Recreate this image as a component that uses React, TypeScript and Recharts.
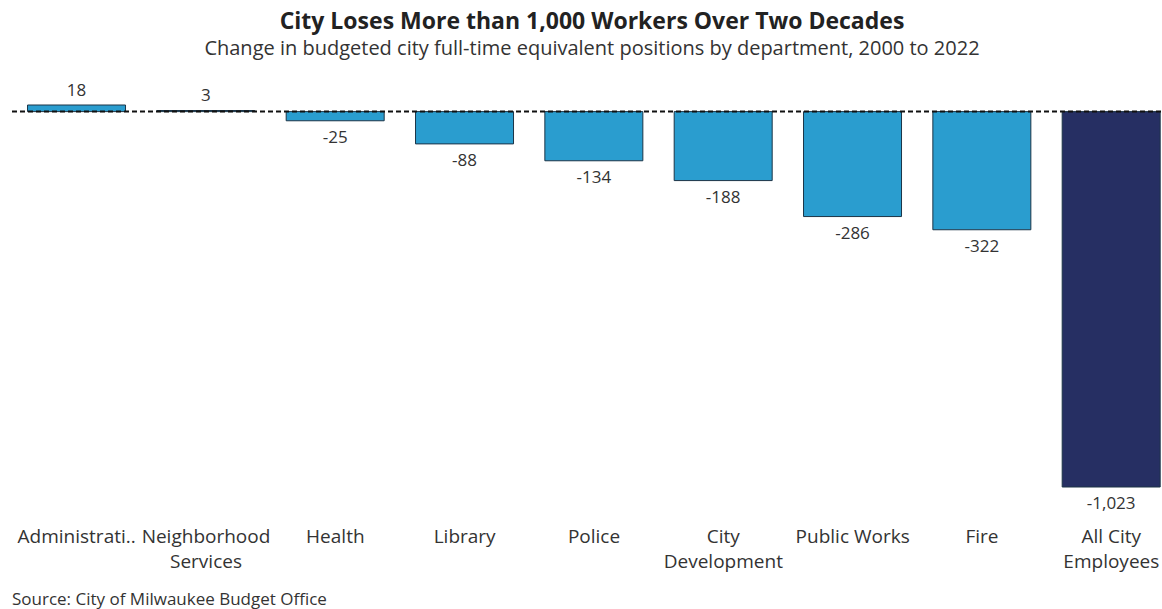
import React from "react";
import { BarChart, Bar, XAxis, YAxis, ReferenceLine, Cell, LabelList } from "recharts";

const departments = [
  "Administrati..",
  "Neighborhood\nServices",
  "Health",
  "Library",
  "Police",
  "City\nDevelopment",
  "Public Works",
  "Fire",
  "All City\nEmployees",
];
const changes = [18, 3, -25, -88, -134, -188, -286, -322, -1023];
const barColors = ["#2a9dcf", "#2a9dcf", "#2a9dcf", "#2a9dcf", "#2a9dcf", "#2a9dcf", "#2a9dcf", "#2a9dcf", "#262f63"];

const FONT = "'Open Sans', Lato, sans-serif";

const chartData = departments.map((name, i) => ({ name, value: changes[i], color: barColors[i] }));

const DeptTick = ({ x, y, payload }: any) => {
  const lines = String(payload.value).split("\n");
  return (
    <text x={x} y={y} textAnchor="middle" fill="#333" fontSize={19} fontFamily={FONT}>
      {lines.map((ln, i) => (
        <tspan key={i} x={x} dy={i === 0 ? 48 : 25}>
          {ln}
        </tspan>
      ))}
    </text>
  );
};

const ValueLabel = (props: any) => {
  const { x, y, width, height, value } = props;
  const top = Math.min(y, y + height);
  const bottom = Math.max(y, y + height);
  const ty = value >= 0 ? top - 9.5 : bottom + 22;
  return (
    <text x={x + width / 2} y={ty} textAnchor="middle" fill="#333" fontSize={17} fontFamily={FONT}>
      {Number(value).toLocaleString("en-US")}
    </text>
  );
};

export default function App() {
  return (
    <div
      style={{
        position: "absolute",
        left: 0,
        top: 0,
        width: 1162,
        height: 609,
        overflow: "hidden",
        background: "#fff",
        fontFamily: FONT,
      }}
    >
      <div style={{ position: "absolute", left: 0, top: 4, width: 1184, textAlign: "center", fontSize: 23, fontWeight: 700, color: "#222" }}>
        City Loses More than 1,000 Workers Over Two Decades
      </div>
      <div style={{ position: "absolute", left: 0, top: 34, width: 1184, textAlign: "center", fontSize: 20, color: "#333" }}>
        Change in budgeted city full-time equivalent positions by department, 2000 to 2022
      </div>
      <div style={{ position: "absolute", left: 0, top: 60 }}>
        <BarChart
          width={1180}
          height={520}
          data={chartData}
          margin={{ top: 45, right: 4, bottom: 0, left: 12 }}
          barCategoryGap="12%"
        >
          <XAxis dataKey="name" axisLine={false} tickLine={false} height={93} interval={0} tick={<DeptTick />} />
          <YAxis hide domain={[-1023, 18]} />
          <Bar dataKey="value" stroke="#1c3447" strokeWidth={1} isAnimationActive={false}>
            {chartData.map((d, i) => (
              <Cell key={i} fill={d.color} />
            ))}
            <LabelList dataKey="value" content={<ValueLabel />} />
          </Bar>
          <ReferenceLine y={0} stroke="#111" strokeWidth={2} strokeDasharray="5 3" />
        </BarChart>
      </div>
      <div style={{ position: "absolute", left: 12, top: 587, fontSize: 17, color: "#333" }}>
        Source: City of Milwaukee Budget Office
      </div>
    </div>
  );
}
